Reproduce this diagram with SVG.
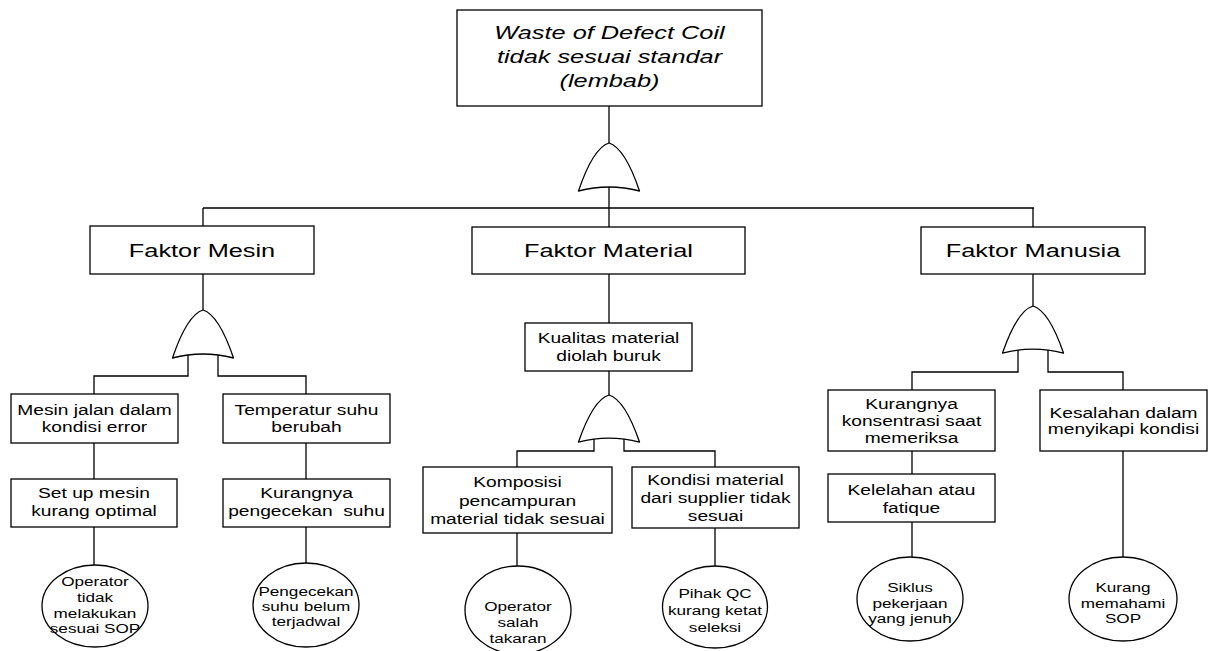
<svg xmlns="http://www.w3.org/2000/svg" xmlns:xlink="http://www.w3.org/1999/xlink" width="1208" height="651" viewBox="0 0 1208 651">
<style>
  .box { fill: #fff; stroke: #000; stroke-width: 1.3; }
  .ell { fill: #fff; stroke: #000; stroke-width: 1.3; }
  .gate { fill: #fff; stroke: #000; stroke-width: 1.3; stroke-linejoin: round; }
  .wire { fill: none; stroke: #000; stroke-width: 1.3; }
  text { font-family: "Liberation Sans", Arial, sans-serif; fill: #000; text-anchor: middle; }
  .title { font-size: 18.5px; font-style: italic; }
  .big { font-size: 18.5px; }
  .mid { font-size: 14px; }
  .small { font-size: 12.5px; }
</style>
<defs>
  <path id="orgate" d="M-30.5,48 Q-16,5 0,0 Q16,5 30.5,48 Q0,40 -30.5,48 Z"/>
</defs>
<rect width="1208" height="651" fill="#fff"/>

<g id="connectors" class="wire">
  <path d="M609,106 V143"/>
  <path d="M609,187 V208 M203,208 H1034 M203,208 V226 M609,208 V227 M1033,208 V227"/>
  <path d="M203,274 V310"/>
  <path d="M188,355 V376 H94 V394 M218,355 V376 H306 V394"/>
  <path d="M94,443 V479 M306,443 V479"/>
  <path d="M94,527 V565 M306,527 V563"/>
  <path d="M609,274 V323 M609,371 V395"/>
  <path d="M594,439 V451 H517 V467 M624,439 V451 H715 V467"/>
  <path d="M517,533 V566 M715,528 V566"/>
  <path d="M1033,274 V306"/>
  <path d="M1018,350 V372 H912 V390 M1048,350 V372 H1123 V390"/>
  <path d="M912,451 V474 M912,522 V557 M1123,451 V557"/>
</g>

<g id="gate-top"><use xlink:href="#orgate" class="gate" transform="translate(609,143)"/></g>
<g id="gate-mesin"><use xlink:href="#orgate" class="gate" transform="translate(203,310)"/></g>
<g id="gate-material"><use xlink:href="#orgate" class="gate" transform="translate(609,395) scale(1,0.98)"/></g>
<g id="gate-manusia"><use xlink:href="#orgate" class="gate" transform="translate(1033,306) scale(1,0.98)"/></g>

<g id="top-event">
  <rect class="box" x="457" y="10" width="305" height="96"/>
  <text class="title" transform="translate(609.5,0) scale(1.37,1)"><tspan x="0" y="39">Waste of Defect Coil</tspan><tspan x="0" y="63">tidak sesuai standar</tspan><tspan x="0" y="87">(lembab)</tspan></text>
</g>

<g id="faktor-mesin">
  <rect class="box" x="90" y="226" width="224" height="48"/>
  <text class="big" transform="translate(202,0) scale(1.37,1)"><tspan x="0" y="257">Faktor Mesin</tspan></text>
</g>
<g id="faktor-material">
  <rect class="box" x="472" y="227" width="273" height="47"/>
  <text class="big" transform="translate(608.5,0) scale(1.37,1)"><tspan x="0" y="257">Faktor Material</tspan></text>
</g>
<g id="faktor-manusia">
  <rect class="box" x="921" y="227" width="224" height="47"/>
  <text class="big" transform="translate(1033,0) scale(1.37,1)"><tspan x="0" y="257">Faktor Manusia</tspan></text>
</g>

<g id="mesin-error">
  <rect class="box" x="11" y="394" width="167" height="49"/>
  <text class="mid" transform="translate(94.5,0) scale(1.37,1)"><tspan x="0" y="415">Mesin jalan dalam</tspan><tspan x="0" y="432">kondisi error</tspan></text>
</g>
<g id="temperatur">
  <rect class="box" x="223" y="394" width="167" height="49"/>
  <text class="mid" transform="translate(306.5,0) scale(1.37,1)"><tspan x="0" y="415">Temperatur suhu</tspan><tspan x="0" y="432">berubah</tspan></text>
</g>
<g id="setup-mesin">
  <rect class="box" x="11" y="479" width="166" height="48"/>
  <text class="mid" transform="translate(94,0) scale(1.37,1)"><tspan x="0" y="498">Set up mesin</tspan><tspan x="0" y="516">kurang optimal</tspan></text>
</g>
<g id="kurang-pengecekan">
  <rect class="box" x="223" y="479" width="167" height="48"/>
  <text class="mid" transform="translate(306.5,0) scale(1.37,1)" xml:space="preserve"><tspan x="0" y="498">Kurangnya</tspan><tspan x="0" y="516">pengecekan  suhu</tspan></text>
</g>
<g id="op-tidak-sop">
  <ellipse class="ell" cx="95" cy="606" rx="53" ry="41"/>
  <text class="small" transform="translate(95,0) scale(1.37,1)"><tspan x="0" y="586">Operator</tspan><tspan x="0" y="602">tidak</tspan><tspan x="0" y="618">melakukan</tspan><tspan x="0" y="633">sesuai SOP</tspan></text>
</g>
<g id="pengecekan-jadwal">
  <ellipse class="ell" cx="306" cy="605" rx="53" ry="42"/>
  <text class="small" transform="translate(306,0) scale(1.37,1)"><tspan x="0" y="596">Pengecekan</tspan><tspan x="0" y="611">suhu belum</tspan><tspan x="0" y="626">terjadwal</tspan></text>
</g>

<g id="kualitas-material">
  <rect class="box" x="525" y="323" width="167" height="48"/>
  <text class="mid" transform="translate(608.5,0) scale(1.37,1)"><tspan x="0" y="343">Kualitas material</tspan><tspan x="0" y="361">diolah buruk</tspan></text>
</g>
<g id="komposisi">
  <rect class="box" x="423" y="467" width="189" height="66"/>
  <text class="mid" transform="translate(517.5,0) scale(1.37,1)"><tspan x="0" y="487">Komposisi</tspan><tspan x="0" y="506">pencampuran</tspan><tspan x="0" y="524">material tidak sesuai</tspan></text>
</g>
<g id="kondisi-supplier">
  <rect class="box" x="632" y="467" width="167" height="61"/>
  <text class="mid" transform="translate(715.5,0) scale(1.37,1)"><tspan x="0" y="485">Kondisi material</tspan><tspan x="0" y="503">dari supplier tidak</tspan><tspan x="0" y="521">sesuai</tspan></text>
</g>
<g id="op-salah-takaran">
  <ellipse class="ell" cx="518" cy="610" rx="53" ry="44"/>
  <text class="small" transform="translate(518,0) scale(1.37,1)"><tspan x="0" y="611">Operator</tspan><tspan x="0" y="627">salah</tspan><tspan x="0" y="643">takaran</tspan></text>
</g>
<g id="qc-seleksi">
  <ellipse class="ell" cx="715" cy="607" rx="52.5" ry="41"/>
  <text class="small" transform="translate(715,0) scale(1.37,1)"><tspan x="0" y="598">Pihak QC</tspan><tspan x="0" y="615">kurang ketat</tspan><tspan x="0" y="632">seleksi</tspan></text>
</g>

<g id="konsentrasi">
  <rect class="box" x="828" y="390" width="167" height="61"/>
  <text class="mid" transform="translate(911.5,0) scale(1.37,1)"><tspan x="0" y="409">Kurangnya</tspan><tspan x="0" y="426">konsentrasi saat</tspan><tspan x="0" y="443">memeriksa</tspan></text>
</g>
<g id="kesalahan">
  <rect class="box" x="1040" y="390" width="167" height="61"/>
  <text class="mid" transform="translate(1123.5,0) scale(1.37,1)"><tspan x="0" y="418">Kesalahan dalam</tspan><tspan x="0" y="434">menyikapi kondisi</tspan></text>
</g>
<g id="kelelahan">
  <rect class="box" x="828" y="474" width="167" height="48"/>
  <text class="mid" transform="translate(911.5,0) scale(1.37,1)"><tspan x="0" y="495">Kelelahan atau</tspan><tspan x="0" y="513">fatique</tspan></text>
</g>
<g id="siklus">
  <ellipse class="ell" cx="910" cy="599" rx="53" ry="42"/>
  <text class="small" transform="translate(910,0) scale(1.37,1)"><tspan x="0" y="592">Siklus</tspan><tspan x="0" y="608">pekerjaan</tspan><tspan x="0" y="623">yang jenuh</tspan></text>
</g>
<g id="kurang-sop">
  <ellipse class="ell" cx="1123" cy="599" rx="54" ry="42"/>
  <text class="small" transform="translate(1123,0) scale(1.37,1)"><tspan x="0" y="592">Kurang</tspan><tspan x="0" y="608">memahami</tspan><tspan x="0" y="623">SOP</tspan></text>
</g>
</svg>
